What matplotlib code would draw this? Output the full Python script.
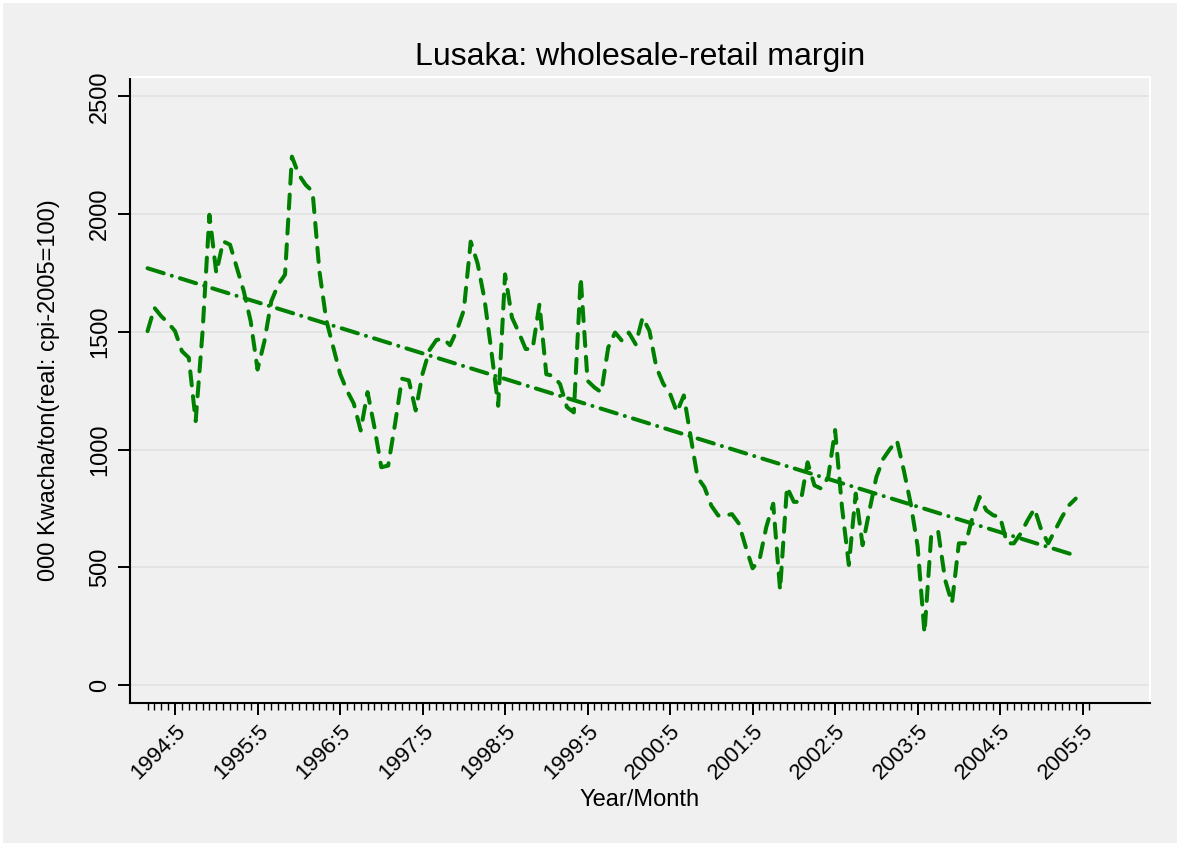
"""
Lusaka: wholesale-retail margin, monthly 1994:1 - 2005:4 with linear trend.
"""

import matplotlib.pyplot as plt
from matplotlib.ticker import FixedLocator

plt.rcParams['font.family'] = ['Liberation Sans', 'DejaVu Sans']

# --- Data ---
# month index 0 = 1994:1
margen = [1503, 1602, 1566, 1538, 1503, 1418, 1390, 1121, 1500, 1997,
          1750, 1884, 1870, 1771, 1672, 1545, 1340, 1460, 1630, 1700,
          1743, 2244, 2167, 2124, 2096, 1757, 1550, 1436, 1322, 1251,
          1195, 1081, 1244, 1095, 925, 932, 1109, 1301, 1294, 1166,
          1322, 1422, 1465, 1472, 1443, 1507, 1592, 1883, 1791, 1640,
          1420, 1186, 1744, 1561, 1497, 1427, 1427, 1617, 1320, 1313,
          1278, 1180, 1158, 1730, 1292, 1264, 1243, 1433, 1497, 1462,
          1497, 1447, 1561, 1504, 1350, 1280, 1237, 1159, 1230, 1053,
          882, 840, 762, 720, 720, 726, 686, 587, 496, 531,
          672, 770, 404, 841, 778, 778, 946, 848, 834, 883,
          1083, 756, 510, 813, 594, 742, 883, 961, 1003, 1038,
          911, 770, 590, 221, 644, 651, 447, 348, 602, 602,
          714, 799, 742, 721, 714, 602, 602, 644, 700, 749,
          658, 602, 658, 714, 763, 792]
meses = list(range(len(margen)))

# linear trend, end points
tendencia_meses = [0, len(margen) - 1]
tendencia = [1770, 550]

ticks_mayores = list(range(4, 137, 12))          # 1994:5 ... 2005:5
etiquetas_x = [f'{1994 + i}:5' for i in range(len(ticks_mayores))]
ticks_menores = list(range(0, 138))              # every month to 2005:6
ticks_y = [0, 500, 1000, 1500, 2000, 2500]

verde = '#008000'
fondo = '#f0f0f0'

# --- Figure ---
fig = plt.figure(figsize=(11.8, 8.46), dpi=100)
fig.patch.set_facecolor(fondo)
fig.patch.set_edgecolor('white')
fig.patch.set_linewidth(3)

ax = fig.add_axes([130 / 1180, 1 - 703 / 846, 1020 / 1180, 626 / 846])
ax.set_facecolor(fondo)

ax.plot(meses, margen, color=verde, linewidth=2.9,
        linestyle=(0, (3.5, 2.7)), dash_capstyle='round', solid_joinstyle='round')
ax.plot(tendencia_meses, tendencia, color=verde, linewidth=2.9,
        linestyle=(0, (4.2, 2.1, 0.01, 2.1)), dash_capstyle='round')

ax.set_xlim(-2.55, 145.8)
ax.set_ylim(-76, 2582)

# grid
ax.yaxis.grid(True, color='#e2e2e2', linewidth=1.3)
ax.set_axisbelow(True)

# spines: black axes, white frame
for lado in ['top', 'right']:
    ax.spines[lado].set_color('white')
    ax.spines[lado].set_linewidth(1.5)
for lado in ['left', 'bottom']:
    ax.spines[lado].set_color('black')
    ax.spines[lado].set_linewidth(1.5)

# ticks
ax.set_yticks(ticks_y)
ax.set_yticklabels([str(t) for t in ticks_y], rotation=90, va='center')
ax.xaxis.set_major_locator(FixedLocator(ticks_mayores))
ax.xaxis.set_minor_locator(FixedLocator(ticks_menores))
ax.set_xticklabels(etiquetas_x)
ax.tick_params(axis='both', which='major', direction='out', length=8.5,
               width=1.4, color='black')
ax.tick_params(axis='y', labelsize=17, pad=5)
ax.tick_params(axis='x', labelsize=16, pad=4)
ax.tick_params(axis='x', which='minor', direction='out', length=5, width=1.0)
plt.setp(ax.get_xticklabels(), rotation=45, ha='right', rotation_mode='anchor')

# texts
fig.text(640 / 1180, 1 - 57 / 846, 'Lusaka: wholesale-retail margin',
         ha='center', va='center', fontsize=23)
fig.text(640 / 1180, 1 - 800 / 846, 'Year/Month',
         ha='center', va='center', fontsize=17)
fig.text(49 / 1180, 1 - 390 / 846, '000 Kwacha/ton(real: cpi-2005=100)',
         ha='center', va='center', fontsize=17, rotation=90)

plt.savefig('out.png', dpi=100, facecolor=fig.get_facecolor(),
            edgecolor=fig.get_edgecolor())
